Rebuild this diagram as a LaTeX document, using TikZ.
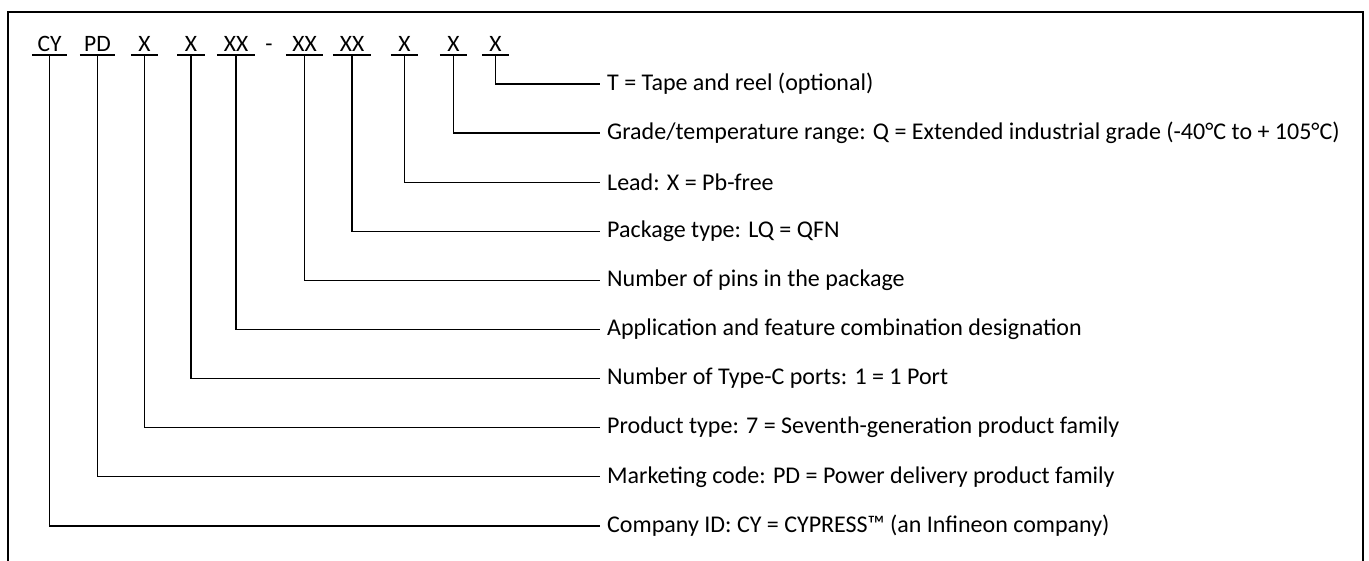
\documentclass[tikz,border=0pt]{standalone}
\usepackage{fontspec}
\setmainfont{Carlito}
\usepackage{tikz}
\usetikzlibrary{calc}

\begin{document}
\begin{tikzpicture}[x=1pt, y=-1pt,
		code/.style = {anchor = south, inner xsep = 0pt, inner ysep = 3pt, text depth = 0pt, minimum width = #1, font = \fontsize{23.5}{27}\selectfont},
		code/.default = {27pt},
		desc/.style = {anchor = west, inner sep = 0pt, xshift = 7pt, font = \fontsize{24}{28}\selectfont},
		under/.style = {line width = 2pt},
		lead/.style = {line width = 1.3pt},
		frame/.style = {line width = 2pt}]
		\def\top{84};
		\def\gap{49.1};
		\def\tx{600};
		
		\useasboundingbox (0,0) rectangle (1369,561);
		\draw [frame] (8,562) -- (8,12) -- (1363,12) -- (1363,562);
		
		% the part number fields
		\node [code = 35pt] (cy) at (49.5,55) {CY};
		\node [code = 35pt] (pd) at (97.5,55) {PD};
		\node [code] (gen) at (144.5,55) {X};
		\node [code] (ports) at (191,55) {X};
		\node [code = 38pt] (app) at (236,55) {XX};
		\node [code = 10pt] (dash) at (269,55) {-};
		\node [code = 37pt] (pins) at (304.5,55) {XX};
		\node [code = 38pt] (pkg) at (352,55) {XX};
		\node [code] (lead) at (404.5,55) {X};
		\node [code] (grade) at (453.5,55) {X};
		\node [code] (tape) at (495.5,55) {X};
		
		\foreach \f in {cy, pd, gen, ports, app, pins, pkg, lead, grade, tape}
			\draw [under] (\f.south west) -- (\f.south east);
		
		% the meanings
		\coordinate (r0) at (\tx,\top);
		\node [desc] (d tape) at (r0) {T = Tape and reel (optional)};
		\node [desc] (d grade) at ($ (r0) + (0,\gap) $) {Grade/temperature range: Q = Extended industrial grade (-40°C to + 105°C)};
		\node [desc] (d lead) at ($ (r0) + (0,{2*\gap}) $) {Lead: X = Pb-free};
		\node [desc] (d pkg) at ($ (r0) + (0,{3*\gap}) $) {Package type: LQ = QFN};
		\node [desc] (d pins) at ($ (r0) + (0,{4*\gap}) $) {Number of pins in the package};
		\node [desc] (d app) at ($ (r0) + (0,{5*\gap}) $) {Application and feature combination designation};
		\node [desc] (d ports) at ($ (r0) + (0,{6*\gap}) $) {Number of Type-C ports: 1 = 1 Port};
		\node [desc] (d gen) at ($ (r0) + (0,{7*\gap}) $) {Product type: 7 = Seventh-generation product family};
		\node [desc] (d pd) at ($ (r0) + (0,{8*\gap}) $) {Marketing code: PD = Power delivery product family};
		\node [desc] (d cy) at ($ (r0) + (0,{9*\gap}) $) {Company ID: CY = CYPRESS™ (an Infineon company)};
		
		\foreach \f in {cy, pd, gen, ports, app, pins, pkg, lead, grade, tape}
			\draw [lead] (\f.south) |- ($ (d \f.west) + (-7,0) $);
	\end{tikzpicture}
\end{document}
